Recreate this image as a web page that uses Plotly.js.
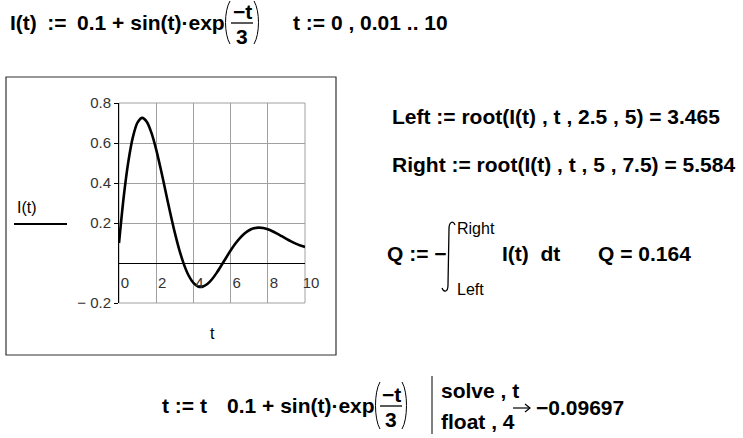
<!DOCTYPE html>
<html>
<head>
<meta charset="utf-8">
<script src="https://cdn.plot.ly/plotly-3.0.1.min.js"></script>
<style>
  html, body { margin: 0; padding: 0; background: #ffffff; }
  #plot { width: 743px; height: 438px; }
</style>
</head>
<body>
<div id="plot"></div>
<script>
// Sampled values of I(t) = 0.1 + sin(t)*exp(-t/3) on 0..10
const tValues = [0, 0.25, 0.5, 0.75, 1, 1.25, 1.5, 1.75, 2, 2.25, 2.5, 2.75, 3, 3.25, 3.5, 3.75,
  4, 4.25, 4.5, 4.75, 5, 5.25, 5.5, 5.75, 6, 6.25, 6.5, 6.75, 7, 7.25, 7.5, 7.75,
  8, 8.25, 8.5, 8.75, 9, 9.25, 9.5, 9.75, 10];
const iValues = [0.1000, 0.3276, 0.5058, 0.6309, 0.7029, 0.7256, 0.7050, 0.6491, 0.5669, 0.4675,
  0.3601, 0.2526, 0.1519, 0.0634, -0.0092, -0.0638, -0.0995, -0.1171, -0.1181, -0.1051,
  -0.0811, -0.0493, -0.0128, 0.0252, 0.0622, 0.0959, 0.1246, 0.1474, 0.1637, 0.1734,
  0.1770, 0.1751, 0.1687, 0.1590, 0.1470, 0.1338, 0.1205, 0.1080, 0.0968, 0.0876, 0.0806];

const xTickVals = [0, 2, 4, 6, 8, 10];
const xTickText = ['0', '2', '4', '6', '8', '10'];
const yTickVals = [-0.2, 0.2, 0.4, 0.6, 0.8];
const yTickText = ['\u2212 0.2', '0.2', '0.4', '0.6', '0.8'];

// Worksheet results
const leftRoot = '3.465';
const rightRoot = '5.584';
const qValue = '0.164';
const solveResult = '\u22120.09697';

const W = 743, H = 438;
const FONT = 'Liberation Sans, Arial, sans-serif';
const MATH = 21;     // size of the worksheet math
const SMALL = 16;    // limits, labels
const SP = '\u2002'; // wider gap around the definition operator
const px = x => x / W;
const py = y => 1 - y / H;

const annotations = [];
const shapes = [];

function txt(text, x, y, size, opts) {
  const o = opts || {};
  annotations.push({
    text: text, x: px(x), y: py(y), xref: 'paper', yref: 'paper',
    xanchor: o.xanchor || 'left', yanchor: 'middle', showarrow: false,
    font: { family: o.family || FONT, size: size, color: o.color || '#000', weight: o.weight || 'bold' }
  });
}
function seg(x0, y0, x1, y1, color, width) {
  shapes.push({ type: 'line', xref: 'paper', yref: 'paper',
    x0: px(x0), y0: py(y0), x1: px(x1), y1: py(y1),
    line: { color: color || '#000', width: width || 1 } });
}
function pathShape(d, color, width) {
  shapes.push({ type: 'path', xref: 'paper', yref: 'paper', path: d,
    line: { color: color || '#000', width: width || 1 } });
}
const P = (x, y) => px(x).toFixed(5) + ',' + py(y).toFixed(5);

// tall parentheses; x is the outermost point of the curve
function paren(x, top, bottom, side) {
  const e = side === 'L' ? 6 : -6;
  pathShape('M ' + P(x + e, top) + ' C ' + P(x, top + 10) + ' ' + P(x, bottom - 10) + ' ' + P(x + e, bottom), '#000', 1);
}
// fraction -t / 3 centred on cx, bar at y
function fraction(cx, y) {
  txt('\u2212t', cx, y - 12, MATH, { xanchor: 'center' });
  seg(cx - 11, y, cx + 11, y, '#000', 1.3);
  txt('3', cx, y + 13, MATH, { xanchor: 'center' });
}

// ---- definition line
txt('I(t)' + SP + ':=' + SP + '0.1 + sin(t)\u00b7exp', 8, 22, MATH);
paren(224, 1, 44, 'L');
fraction(242, 23);
paren(260, 1, 44, 'R');
txt('t := 0 , 0.01 .. 10', 291, 22, MATH);

// ---- graph frame
shapes.push({ type: 'rect', xref: 'paper', yref: 'paper',
  x0: px(6), y0: py(355), x1: px(336), y1: py(77),
  line: { color: '#333', width: 1.2 } });
// plot area border
shapes.push({ type: 'rect', xref: 'x domain', yref: 'y domain', x0: 0, y0: 0, x1: 1, y1: 1,
  line: { color: '#a0a0a0', width: 1 }, layer: 'below' });

// trace label beside the axis
txt('I(t)', 15, 207, SMALL, { weight: 'normal' });
seg(14, 224, 67, 224, '#000', 2);
// axis variable
txt('t', 212, 333, SMALL, { xanchor: 'center', weight: 'normal' });

// ---- roots
txt('Left := root(I(t) , t , 2.5 , 5) = ' + leftRoot, 390, 116, MATH);
txt('Right := root(I(t) , t , 5 , 7.5) = ' + rightRoot, 390, 165, MATH);

// ---- integral
txt('Q := \u2212', 385, 253, MATH);
pathShape('M ' + P(455, 225) + ' C ' + P(453, 220) + ' ' + P(449, 222) + ' ' + P(449, 229) +
  ' L ' + P(448, 285) + ' C ' + P(448, 292) + ' ' + P(444, 293) + ' ' + P(442, 288), '#000', 1.3);
txt('Right', 455, 228, SMALL, { weight: 'normal' });
txt('Left', 455, 289, SMALL, { weight: 'normal' });
txt('I(t)  dt', 500, 253, MATH);
txt('Q = ' + qValue, 596, 253, MATH);

// ---- symbolic solve
const yb = 405;
txt('t := t', 160, yb, MATH);
txt('0.1 + sin(t)\u00b7exp', 225, yb, MATH);
paren(374, yb - 23, yb + 24, 'L');
fraction(391, yb + 1);
paren(408, yb - 23, yb + 24, 'R');
seg(432, yb - 29, 432, yb + 29, '#000', 1);
txt('solve , t', 439, yb - 15, MATH);
txt('float , 4', 439, yb + 16, MATH);
// evaluation arrow
seg(513, yb + 3, 530, yb + 3, '#000', 1.2);
pathShape('M ' + P(525, yb - 1) + ' L ' + P(530, yb + 3) + ' L ' + P(525, yb + 7), '#000', 1.2);
txt(solveResult, 534, yb + 2, MATH);

const trace = {
  x: tValues, y: iValues, type: 'scatter', mode: 'lines',
  line: { color: '#000', width: 2.6, shape: 'spline', smoothing: 0.8 },
  hoverinfo: 'skip', cliponaxis: true
};

const tickFont = { family: FONT, size: 15, color: '#333' };

const layout = {
  width: W, height: H,
  margin: { l: 0, r: 0, t: 0, b: 0, pad: 0 },
  paper_bgcolor: '#fff', plot_bgcolor: '#fff',
  showlegend: false,
  xaxis: {
    domain: [px(119), px(305)], range: [0, 10], autorange: false,
    anchor: 'free', position: py(263),
    tickvals: xTickVals, ticktext: xTickText, ticks: '',
    ticklabelshift: 6, ticklabelstandoff: 6,
    showgrid: true, gridcolor: '#a0a0a0', gridwidth: 1,
    zeroline: false, showline: true, linecolor: '#000', linewidth: 1,
    tickfont: tickFont, fixedrange: true
  },
  yaxis: {
    domain: [py(303), py(103)], range: [-0.2, 0.8], autorange: false,
    anchor: 'x',
    tickvals: yTickVals, ticktext: yTickText,
    ticks: 'outside', ticklen: 4, tickcolor: '#000', tickwidth: 1,
    showgrid: true, gridcolor: '#a0a0a0', gridwidth: 1,
    zeroline: false, showline: true, linecolor: '#000', linewidth: 1,
    tickfont: tickFont, fixedrange: true
  },
  annotations: annotations,
  shapes: shapes
};

Plotly.newPlot('plot', [trace], layout, { staticPlot: true, displayModeBar: false });
</script>
</body>
</html>
